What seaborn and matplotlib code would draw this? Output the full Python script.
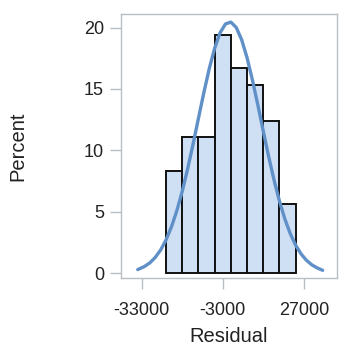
import matplotlib
matplotlib.use("Agg")
import matplotlib.pyplot as plt
import pandas as pd
import seaborn as sns

# histogram of residuals: bin midpoints and percent per bin
bin_mid = [-21000, -15000, -9000, -3000, 3000, 9000, 15000, 21000]
bin_pct = [8.3, 11.1, 11.1, 19.4, 16.7, 15.3, 12.4, 5.6]
bin_width = 6000

# fitted normal curve (percent scale)
curve_x = [-34500, -32000, -30000, -28000, -26000, -24000, -22000, -20000,
           -18000, -16000, -14000, -12000, -10000, -8000, -6000, -4000,
           -2000, 0, 2000, 4000, 6000, 8000, 10000, 12000, 14000, 16000,
           18000, 20000, 22000, 24000, 26000, 28000, 30000, 32000, 34000]
curve_pct = [0.30, 0.55, 0.85, 1.29, 1.90, 2.72, 3.78, 5.10,
             6.68, 8.51, 10.51, 12.62, 14.71, 16.66, 18.32, 19.57,
             20.29, 20.44, 20.00, 19.00, 17.53, 15.71, 13.68, 11.56, 9.49, 7.57,
             5.86, 4.41, 3.22, 2.28, 1.57, 1.05, 0.68, 0.43, 0.24]

x_ticks = [-33000, -3000, 27000]
y_ticks = [0, 5, 10, 15, 20]

sns.set_theme(style="ticks")
plt.rcParams["font.family"] = ["Liberation Sans", "DejaVu Sans"]

frame = "#b9bec3"
text = "#222222"

fig = plt.figure(figsize=(3.41, 3.47), dpi=100)
ax = fig.add_axes([120.7 / 341, 1 - 278.3 / 347, (337 - 120.7) / 341, (278.3 - 14) / 347])

hist = pd.DataFrame({"mid": bin_mid, "pct": bin_pct})
lo = min(bin_mid) - bin_width / 2
hi = max(bin_mid) + bin_width / 2
sns.histplot(data=hist, x="mid", weights="pct", binwidth=bin_width, binrange=(lo, hi),
             color="#cfe0f4", alpha=1, edgecolor="#111111", linewidth=1.4, ax=ax)

curve = pd.DataFrame({"x": curve_x, "y": curve_pct})
sns.lineplot(data=curve, x="x", y="y", color="#6090c8", linewidth=2.4, ax=ax)

ax.set_xlim(-40800, 39300)
ax.set_ylim(-0.41, 21.1)
ax.set_xticks(x_ticks)
ax.set_yticks(y_ticks)
ax.set_xticklabels([str(v) for v in x_ticks])
ax.set_xlabel("Residual", fontsize=14.5, color=text)
ax.set_ylabel("Percent", fontsize=14.5, color=text)
ax.xaxis.set_label_coords(0.5, -0.183)
ax.yaxis.set_label_coords(-0.43, 0.5)

for s in ax.spines.values():
    s.set_visible(True)
    s.set_color(frame)
    s.set_linewidth(1.0)
ax.tick_params(axis="both", colors=frame, labelcolor=text, labelsize=13,
               length=8, width=1.0, direction="out")
ax.tick_params(axis="x", pad=9)
ax.tick_params(axis="y", pad=4)

fig.savefig("out.png", dpi=100)
